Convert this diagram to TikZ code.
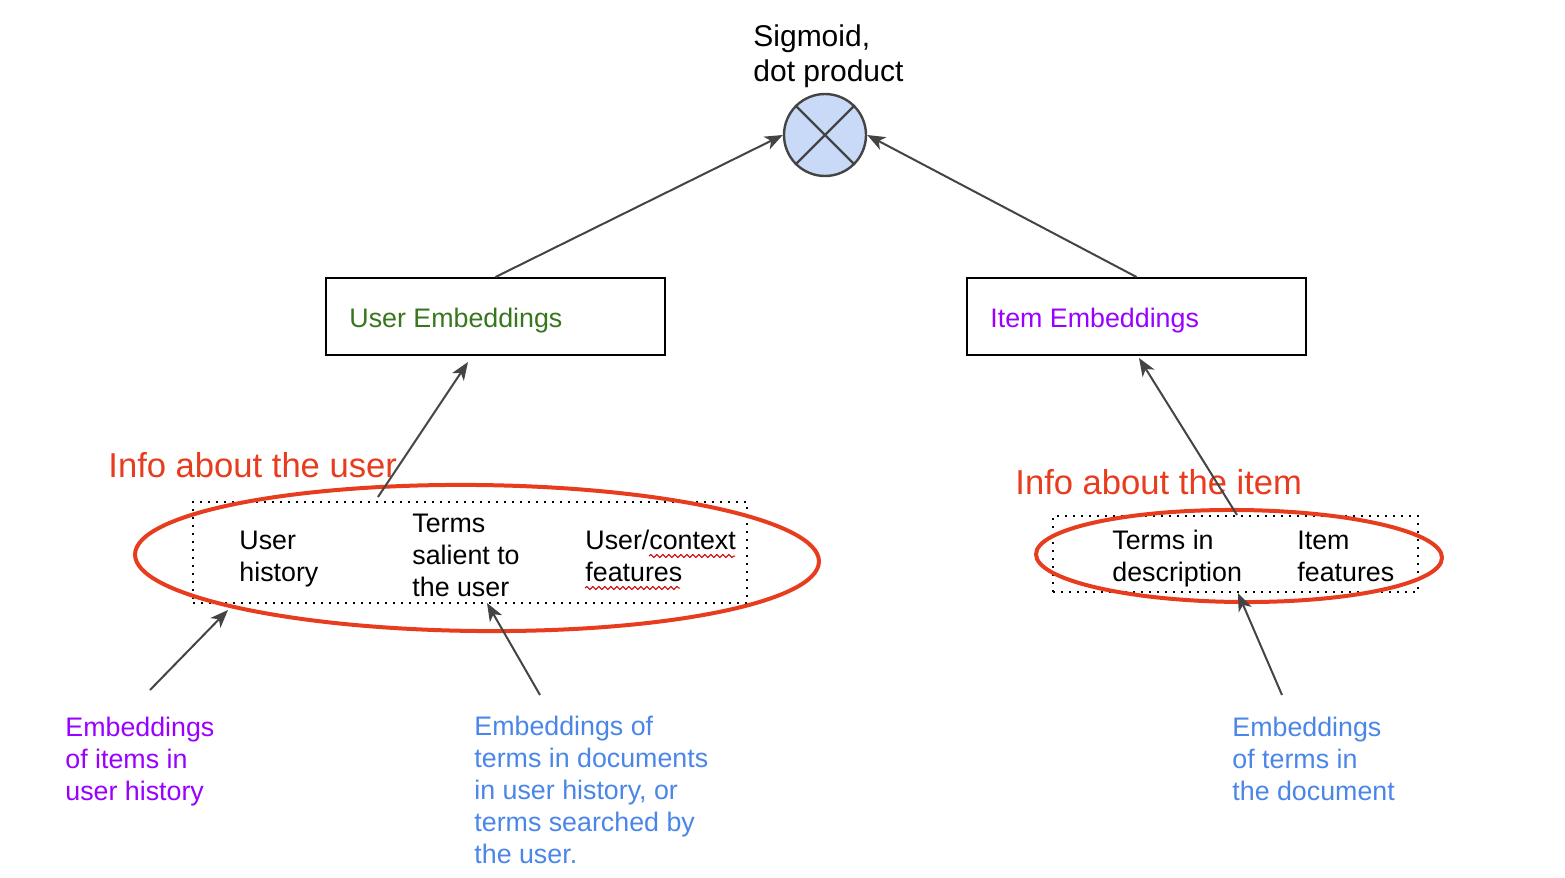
\documentclass[tikz,border=0pt]{standalone}
\usepackage{fontspec}
\setmainfont{Liberation Sans}
\usetikzlibrary{arrows.meta,decorations.pathmorphing,shapes.geometric}
\definecolor{ugreen}{HTML}{38761D}
\definecolor{ipurple}{HTML}{9900FF}
\definecolor{lblue}{HTML}{4A86E8}
\definecolor{infored}{RGB}{232,60,30}
\definecolor{circfill}{HTML}{C9DAF8}
\definecolor{arrgray}{HTML}{444444}
\tikzset{
  arr/.style={draw=arrgray, line width=1pt, -{Stealth[length=9pt,width=7pt,inset=2.5pt]}},
  ebox/.style={draw=black, line width=1pt, minimum width=169.5pt, minimum height=38.5pt, inner sep=0pt},
  dotbox/.style={draw=black, line width=0.9pt, dash pattern=on 0.9pt off 3.1pt, inner sep=0pt},
  redell/.style={ellipse, draw=infored, line width=2pt, inner sep=0pt},
  txt/.style={anchor=base west, inner sep=0pt, align=left, font=\fontsize{13.4}{16}\selectfont},
  infotxt/.style={anchor=base west, inner sep=0pt, text=infored, font=\fontsize{17.3}{20}\selectfont},
  wavy/.style={draw=red!80!black, line width=0.5pt, decorate, decoration={snake, amplitude=0.8pt, segment length=3pt}}
}
\begin{document}
\begin{tikzpicture}[x=0.5pt,y=-0.5pt]
\useasboundingbox (0,0) rectangle (1565,878);
% top operator
\node[circle, draw=arrgray, line width=1.2pt, fill=circfill, minimum size=41pt, inner sep=0pt] (dot) at (825,135) {};
\draw[arrgray, line width=1.2pt] (dot.north west) -- (dot.south east) (dot.north east) -- (dot.south west);
\node[anchor=base west, inner sep=0pt, align=left, font=\fontsize{15}{17.5}\selectfont] (sig) at (753,82) {Sigmoid,\\dot product};
% embedding boxes
\node[ebox] (ue) at (495.5,316.5) {};
\node[txt, text=ugreen] (uet) at (349,327) {User Embeddings};
\node[ebox] (ie) at (1136.5,316.5) {};
\node[txt, text=ipurple] (iet) at (990,327) {Item Embeddings};
\draw[arr] (ue.north) -- (dot.west);
\draw[arr] (ie.north) -- (dot.east);
% left group
\node[dotbox, minimum width=277pt, minimum height=50.5pt] (ub) at (470,552.5) {};
\node[redell, minimum width=342pt, minimum height=73pt, rotate=-0.6] (uell) at (477,558) {};
\node[infotxt] (uinfo) at (108,477) {Info about the user};
\node[txt] (uh) at (239,581) {User\\history};
\node[txt] (ts) at (412,596) {Terms\\salient to\\the user};
\node[txt] (uc) at (585,581) {User/context\\features};
\draw[wavy] (649,556) -- (735,556);
\draw[wavy] (585,588) -- (680,588);
% right group
\node[dotbox, minimum width=182.5pt, minimum height=38pt] (ib) at (1235.5,554) {};
\node[redell, minimum width=203pt, minimum height=46pt, rotate=-0.5] (iell) at (1239,556) {};
\node[infotxt] (iinfo) at (1015,494) {Info about the item};
\node[txt] (td) at (1112,581) {Terms in\\description};
\node[txt] (if) at (1297,581) {Item\\features};
% arrows into embedding boxes
\coordinate (ua0) at (378,497);
\coordinate (ua1) at (468,362);
\draw[arr] (ua0) -- (ua1);
\coordinate (ia0) at (1237,515);
\coordinate (ia1) at (1139,358);
\draw[arr] (ia0) -- (ia1);
% bottom labels
\node[txt, text=ipurple] (b1) at (65,800) {Embeddings\\of items in\\user history};
\node[txt, text=lblue] (b2) at (474,863) {Embeddings of\\terms in documents\\in user history, or\\terms searched by\\the user.};
\node[txt, text=lblue] (b3) at (1232,800) {Embeddings\\of terms in\\the document};
\coordinate (b1s) at (150,690);
\coordinate (b1e) at (228,610);
\coordinate (b2s) at (540,695);
\coordinate (b2e) at (487,603);
\coordinate (b3s) at (1282,695);
\coordinate (b3e) at (1238,593);
\draw[arr] (b1s) -- (b1e);
\draw[arr] (b2s) -- (b2e);
\draw[arr] (b3s) -- (b3e);
\end{tikzpicture}
\end{document}
